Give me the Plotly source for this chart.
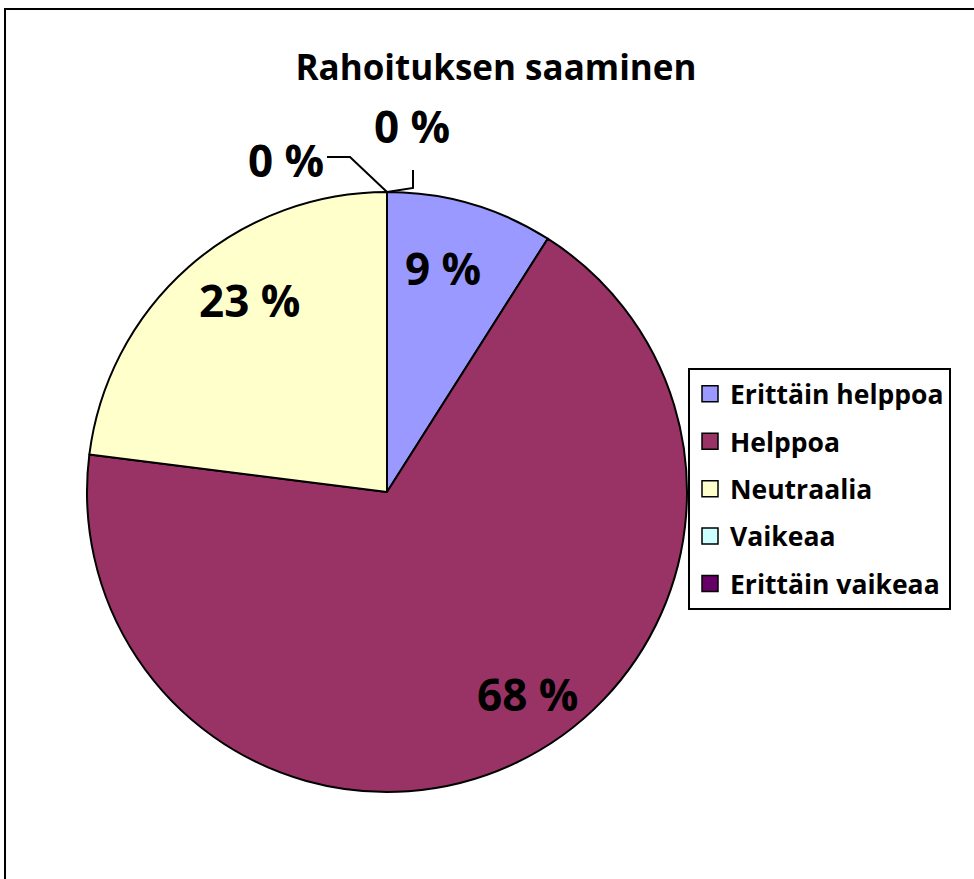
import plotly.graph_objects as go

title = "Rahoituksen saaminen"
categories = ["Erittäin helppoa", "Helppoa", "Neutraalia", "Vaikeaa", "Erittäin vaikeaa"]
values = [9, 68, 23, 0, 0]
colors = ["#9999FF", "#993366", "#FFFFCC", "#CCFFFF", "#660066"]

W, H = 974, 879
FONT = "Open Sans"

# label anchor positions in page pixels (layout only)
label_xy = [(443, 268), (527, 694), (250, 300), (286, 160), (412, 126)]

def px(x, y):
    return x / W, 1 - y / H

fig = go.Figure()
fig.add_trace(go.Pie(
    labels=categories, values=values, sort=False, direction="clockwise", rotation=0,
    marker=dict(colors=colors, line=dict(color="black", width=2)),
    textinfo="none",
    domain=dict(x=[87 / W, 687 / W], y=[1 - 792 / H, 1 - 192 / H]),
    showlegend=False, hoverinfo="label+percent",
))

# legend entries
for c, col in zip(categories, colors):
    fig.add_trace(go.Scatter(
        x=[None], y=[None], mode="markers", name=c, legendgroup=c,
        marker=dict(symbol="square", size=18, color=col, line=dict(color="black", width=1.5)),
    ))

# data labels
for v, (lx, ly) in zip(values, label_xy):
    x, y = px(lx, ly)
    fig.add_annotation(x=x, y=y, xref="paper", yref="paper", text=f"<b>{v:.0f} %</b>",
                       showarrow=False, xanchor="center", yanchor="middle",
                       font=dict(family=FONT, size=44, color="black"))

def path(pts):
    s = ""
    for k, (a, b) in enumerate(pts):
        x, y = px(a, b)
        s += ("M" if k == 0 else "L") + f"{x},{y} "
    return s

fig.add_shape(type="path", xref="paper", yref="paper",
              path=path([(327, 157), (350, 157), (387, 192)]), line=dict(color="black", width=2))
fig.add_shape(type="path", xref="paper", yref="paper",
              path=path([(387, 192), (413, 188), (413, 170)]), line=dict(color="black", width=2))

# outer frame
fig.add_shape(type="rect", xref="paper", yref="paper", x0=5 / W, x1=1.02, y0=-0.02, y1=1 - 9 / H,
              line=dict(color="black", width=2), fillcolor="rgba(0,0,0,0)", layer="below")

fig.update_layout(
    width=W, height=H, margin=dict(l=0, r=0, t=0, b=0),
    paper_bgcolor="white", plot_bgcolor="white",
    title=dict(text=f"<b>{title}</b>", x=496 / W, xanchor="center", y=1 - 68 / H, yanchor="middle",
               font=dict(family=FONT, size=35, color="black")),
    xaxis=dict(visible=False), yaxis=dict(visible=False),
    legend=dict(x=688 / W, xanchor="left", y=1 - 368 / H, yanchor="top",
                bgcolor="white", bordercolor="black", borderwidth=2,
                font=dict(family=FONT, size=26.5, color="black", weight="bold"),
                tracegroupgap=10, itemclick=False, itemdoubleclick=False),
    showlegend=True,
)

fig.write_html("out.html", config={"displayModeBar": False},
               post_script="document.body.style.margin='0';document.body.style.padding='0';")
